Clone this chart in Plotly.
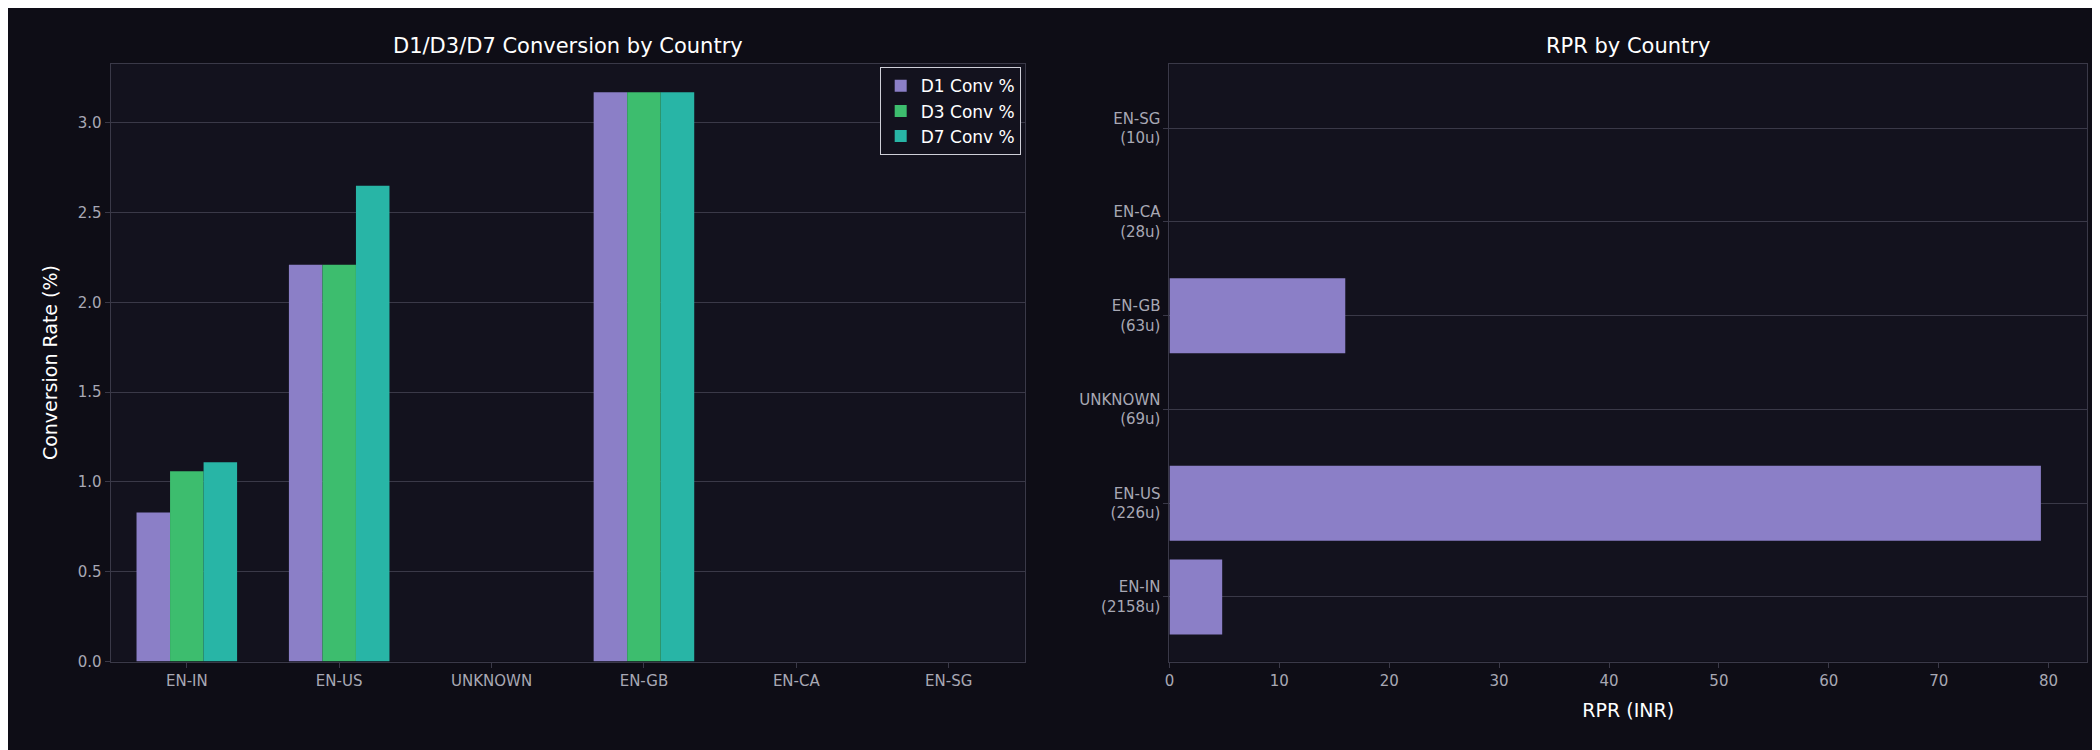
import plotly.graph_objects as go
from plotly.subplots import make_subplots

# ---------------- data ----------------
countries = ['EN-IN', 'EN-US', 'UNKNOWN', 'EN-GB', 'EN-CA', 'EN-SG']
d1_conv = [0.83, 2.21, 0, 3.17, 0, 0]
d3_conv = [1.06, 2.21, 0, 3.17, 0, 0]
d7_conv = [1.11, 2.65, 0, 3.17, 0, 0]

rpr_labels = ['EN-IN<br>(2158u)', 'EN-US<br>(226u)', 'UNKNOWN<br>(69u)',
              'EN-GB<br>(63u)', 'EN-CA<br>(28u)', 'EN-SG<br>(10u)']
rpr_values = [4.8, 79.3, 0, 16.0, 0, 0]

# ---------------- figure ----------------
paper = '#0e0d16'
plot_bg = '#13121e'
grid = '#3a3948'
tick_col = '#a8a8b4'

fig = make_subplots(rows=1, cols=2, horizontal_spacing=0.07,
                    subplot_titles=('D1/D3/D7 Conversion by Country', 'RPR by Country'))

fig.add_trace(go.Bar(x=countries, y=d1_conv, name='D1 Conv %', marker_color='#8b7fc7'), 1, 1)
fig.add_trace(go.Bar(x=countries, y=d3_conv, name='D3 Conv %', marker_color='#3dbd6e'), 1, 1)
fig.add_trace(go.Bar(x=countries, y=d7_conv, name='D7 Conv %', marker_color='#28b5a6'), 1, 1)

fig.add_trace(go.Bar(x=rpr_values, y=rpr_labels, orientation='h', width=0.8,
                     marker_color='#8b7fc7', showlegend=False), 1, 2)
fig.update_traces(marker_line_width=0)

fig.update_layout(
    width=2100, height=750,
    paper_bgcolor=paper, plot_bgcolor=plot_bg,
    font=dict(family='DejaVu Sans', color=tick_col, size=15),
    barmode='group', bargap=0.34, bargroupgap=0,
    margin=dict(l=0, r=0, t=0, b=0),
    legend=dict(x=0.481, y=0.92, xanchor='right', yanchor='top',
                bgcolor=plot_bg, bordercolor='#cfcfd8', borderwidth=1,
                font=dict(color='white', size=17)),
)
fig.layout.annotations[0].update(x=(0.0466 + 0.483) / 2)
fig.layout.annotations[1].update(x=(0.552 + 0.990) / 2)
fig.update_annotations(font=dict(color='white', size=21), y=0.93, yanchor='bottom')

fig.update_xaxes(domain=[0.0466, 0.483], row=1, col=1)
fig.update_xaxes(domain=[0.552, 0.990], row=1, col=2)
fig.update_yaxes(domain=[0.118, 0.925])

fig.update_xaxes(showgrid=False, ticks='outside', tickcolor=grid, ticklen=5,
                 linecolor=grid, mirror=True, showline=True, row=1, col=1)
fig.update_yaxes(range=[0, 3.33], dtick=0.5, tickformat='.1f', gridcolor=grid,
                 ticks='outside', tickcolor=grid, ticklen=5, showline=True, linecolor=grid,
                 mirror=True, zeroline=False,
                 title=dict(text='Conversion Rate (%)', font=dict(color='white', size=19)),
                 row=1, col=1)

fig.update_xaxes(range=[0, 83.5], dtick=10, showgrid=False, zeroline=False,
                 ticks='outside', tickcolor=grid, ticklen=5, showline=True, linecolor=grid,
                 mirror=True, title=dict(text='RPR (INR)', font=dict(color='white', size=19)),
                 row=1, col=2)
fig.update_yaxes(range=[-0.69, 5.69], gridcolor=grid, ticks='outside', tickcolor=grid,
                 ticklen=5, showline=True, linecolor=grid, mirror=True, row=1, col=2)

fig.write_html("out.html")
